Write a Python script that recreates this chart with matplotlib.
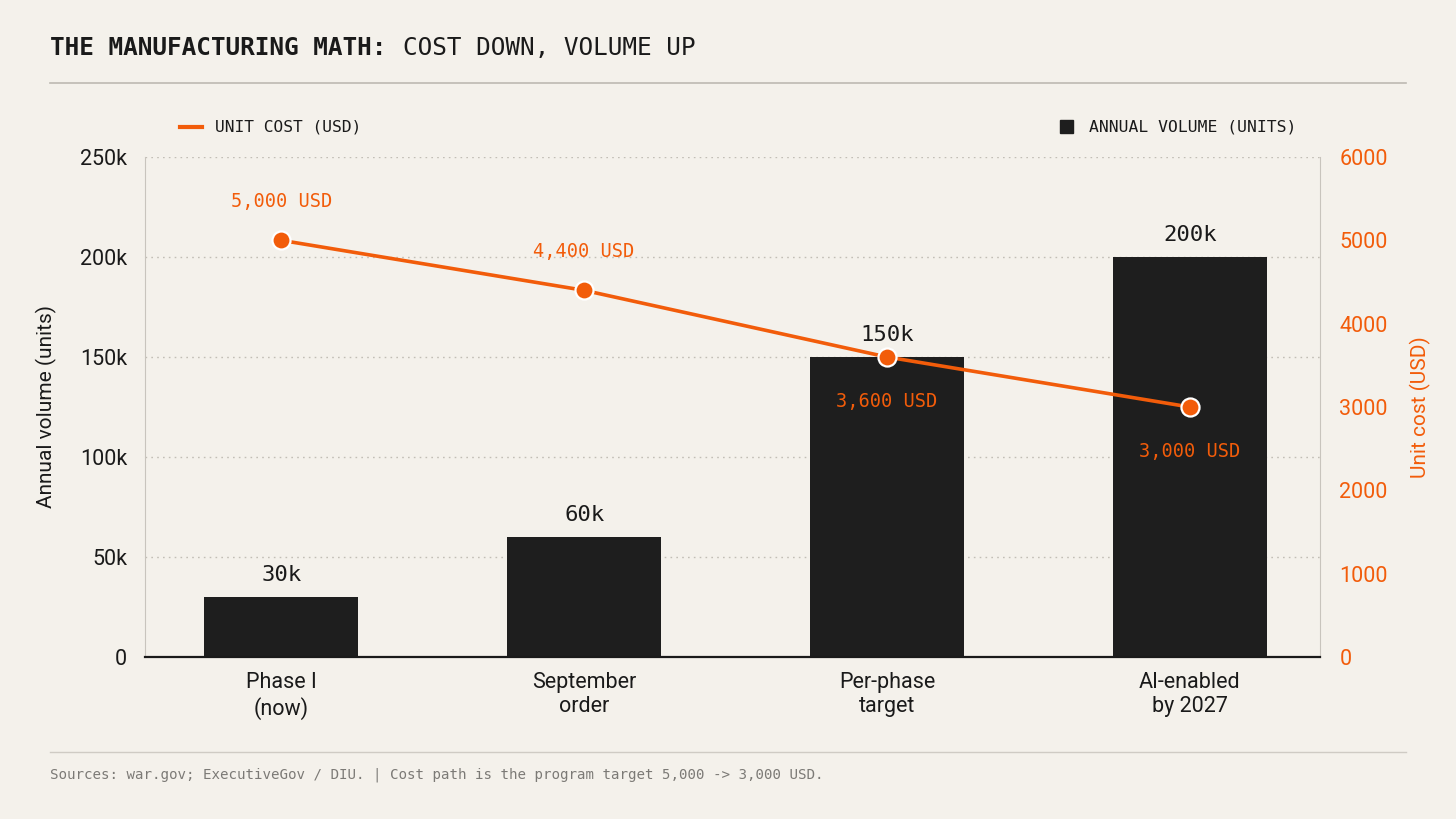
import matplotlib
matplotlib.use("Agg")
import matplotlib.pyplot as plt
from matplotlib.lines import Line2D

# data
phases = ["Phase I\n(now)", "September\norder", "Per-phase\ntarget", "AI-enabled\nby 2027"]
volume_k = [30, 60, 150, 200]
unit_cost = [5000, 4400, 3600, 3000]
volume_labels = ["30k", "60k", "150k", "200k"]
cost_labels = ["5,000 USD", "4,400 USD", "3,600 USD", "3,000 USD"]
left_ticks = [0, 50, 100, 150, 200, 250]
left_tick_labels = ["0", "50k", "100k", "150k", "200k", "250k"]
right_ticks = [0, 1000, 2000, 3000, 4000, 5000, 6000]

BG = "#F4F1EB"
ORANGE = "#F25C0A"
BAR = "#1E1E1E"
MONO = "DejaVu Sans Mono"
SANS = "Roboto"

W, H = 1456, 819
fig = plt.figure(figsize=(W / 100, H / 100), dpi=100, facecolor=BG)

def fx(px):
    return px / W

def fy(py):
    return 1 - py / H

# title + rules
title_size = 17.6
char_w = 0.602 * title_size * 100 / 72
fig.text(fx(50), fy(48), "THE MANUFACTURING MATH:", fontfamily=MONO, fontsize=title_size,
         fontweight="bold", color="#1a1a1a", va="center", ha="left")
fig.text(fx(50 + 24 * char_w), fy(48), "COST DOWN, VOLUME UP", fontfamily=MONO,
         fontsize=title_size, color="#1a1a1a", va="center", ha="left")
fig.add_artist(Line2D([fx(50), fx(1406)], [fy(83), fy(83)], color="#bdb9b2", lw=1.2))
fig.add_artist(Line2D([fx(50), fx(1406)], [fy(752), fy(752)], color="#cfcbc4", lw=1.0))
fig.text(fx(50), fy(775), "Sources: war.gov; ExecutiveGov / DIU. | Cost path is the program target 5,000 -> 3,000 USD.",
         fontfamily=MONO, fontsize=10.2, color="#7c7a76", va="center", ha="left")

# legends
fig.add_artist(Line2D([fx(180), fx(202)], [fy(127), fy(127)], color=ORANGE, lw=3))
fig.text(fx(215), fy(127), "UNIT COST (USD)", fontfamily=MONO, fontsize=11.7,
         color="#1a1a1a", va="center", ha="left")
fig.add_artist(plt.Rectangle((fx(1060), fy(133)), fx(13), 13 / H, color=BAR,
                             transform=fig.transFigure))
fig.text(fx(1089), fy(127), "ANNUAL VOLUME (UNITS)", fontfamily=MONO, fontsize=11.8,
         color="#1a1a1a", va="center", ha="left")

ax = fig.add_axes([fx(145), fy(657), fx(1175), 500 / H])
ax.set_facecolor("none")
x = list(range(len(phases)))

ax.bar(x, volume_k, width=0.51, color=BAR, zorder=2)
for xi, v, lab in zip(x, volume_k, volume_labels):
    ax.annotate(lab, (xi, v), xytext=(0, 16), textcoords="offset points",
                ha="center", va="center", fontfamily=MONO, fontsize=16, color="#1a1a1a")

ax.set_xlim(-0.45, 3.43)
ax.set_ylim(0, 250)
ax.set_yticks(left_ticks)
ax.set_yticklabels(left_tick_labels)
ax.set_xticks(x)
ax.set_xticklabels(phases, linespacing=1.2)
ax.tick_params(axis="both", length=0, labelsize=15.5, colors="#1a1a1a")
ax.tick_params(axis="y", pad=13)
ax.tick_params(axis="x", pad=11)
for t in ax.get_xticklabels() + ax.get_yticklabels():
    t.set_fontfamily(SANS)
ax.set_ylabel("Annual volume (units)", fontfamily=SANS, fontsize=15, color="#1a1a1a", labelpad=16)
ax.yaxis.grid(True, linestyle=(0, (1.2, 3)), color="#c2beb6", lw=1)
ax.set_axisbelow(True)
ax.spines["top"].set_visible(False)
ax.spines["left"].set_color("#c8c4bd")
ax.spines["right"].set_color("#c8c4bd")
ax.spines["bottom"].set_color("#1a1a1a")
ax.spines["bottom"].set_linewidth(1.6)

ax2 = ax.twinx()
ax2.set_ylim(0, 6000)
ax2.set_yticks(right_ticks)
ax2.tick_params(axis="y", length=0, labelsize=15.5, colors=ORANGE, pad=14)
for t in ax2.get_yticklabels():
    t.set_fontfamily(SANS)
ax2.set_ylabel("Unit cost (USD)", fontfamily=SANS, fontsize=15, color=ORANGE, labelpad=16)
for s in ax2.spines.values():
    s.set_visible(False)
ax2.plot(x, unit_cost, color=ORANGE, lw=2.6, marker="o", markersize=13,
         markerfacecolor=ORANGE, markeredgecolor="white", markeredgewidth=1.6, zorder=3)
offsets = [28, 28, -32, -32]
for xi, c, lab, off in zip(x, unit_cost, cost_labels, offsets):
    ax2.annotate(lab, (xi, c), xytext=(0, off), textcoords="offset points",
                 ha="center", va="center", fontfamily=MONO, fontsize=13.4, color=ORANGE)

fig.savefig("out.png", dpi=100, facecolor=BG)
